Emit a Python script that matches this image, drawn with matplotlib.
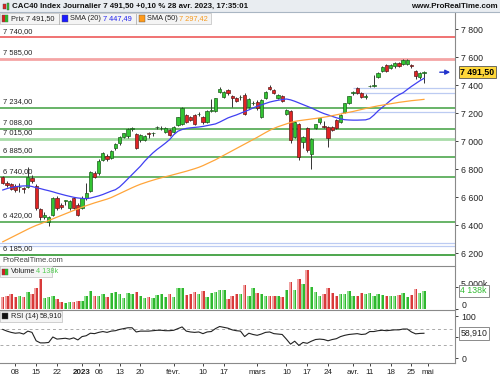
import matplotlib
matplotlib.use("Agg")
import matplotlib.pyplot as plt
import matplotlib.transforms as mtransforms
import numpy as np
import pandas as pd
from matplotlib.patches import Rectangle

# ---------------- data ----------------
holidays = ["2022-12-26", "2023-04-07", "2023-04-10", "2023-05-01"]
all_days = pd.bdate_range("2022-12-05", "2023-05-05")
trade_days = [d for d in all_days if d.strftime("%Y-%m-%d") not in holidays]

opens = [6740, 6700, 6690, 6678, 6668, 6665, 6670, 6735, 6680, 6515, 6460, 6425, 6470, 6592, 6542, 6572, 6525, 6590, 6545,
         6522, 6590, 6640, 6770, 6775, 6866, 6890, 6880, 6950, 6986, 7029, 7036, 7083, 7050, 7007, 7010, 7058, 7056, 7098,
         7092, 7064, 7078, 7064, 7114, 7120, 7186, 7170, 7186, 7190, 7170, 7136, 7214, 7214, 7352, 7314, 7364, 7321, 7307,
         7312, 7330, 7243, 7270, 7279, 7171, 7307, 7386, 7364, 7307, 7321, 7193, 7214, 7029, 7121, 6993, 7093, 6907, 7093,
         7136, 7110, 7100, 7100, 7150, 7136, 7207, 7271, 7343, 7379, 7343, 7315, 7390, 7395, 7457, 7500, 7543, 7521, 7536,
         7557, 7550, 7552, 7545, 7500, 7457, 7484]
highs = [6748, 6712, 6698, 6690, 6700, 6672, 6814, 6760, 6690, 6525, 6490, 6462, 6600, 6605, 6560, 6582, 6582, 6598, 6555,
         6610, 6700, 6785, 6785, 6870, 6925, 6905, 6935, 6985, 7035, 7060, 7090, 7103, 7058, 7050, 7045, 7065, 7066, 7110,
         7108, 7098, 7085, 7105, 7175, 7240, 7195, 7178, 7190, 7205, 7178, 7220, 7300, 7310, 7385, 7355, 7370, 7326, 7315,
         7330, 7340, 7305, 7285, 7290, 7300, 7355, 7400, 7375, 7335, 7330, 7228, 7220, 7145, 7130, 7035, 7100, 7020, 7125,
         7165, 7140, 7105, 7110, 7160, 7190, 7275, 7325, 7355, 7385, 7350, 7335, 7400, 7471, 7490, 7535, 7550, 7548, 7562,
         7565, 7585, 7585, 7550, 7510, 7495, 7500]
lows = [6690, 6670, 6650, 6635, 6636, 6632, 6665, 6700, 6510, 6436, 6440, 6393, 6465, 6510, 6515, 6540, 6510, 6515, 6465,
        6515, 6580, 6636, 6735, 6760, 6860, 6855, 6875, 6935, 6975, 7020, 7025, 7075, 6940, 6990, 7000, 7020, 7035, 7085,
        7080, 7055, 7035, 7060, 7110, 7112, 7130, 7140, 7115, 7180, 7125, 7130, 7205, 7210, 7340, 7305, 7330, 7243, 7280,
        7295, 7185, 7238, 7255, 7225, 7165, 7300, 7365, 7335, 7300, 7280, 7185, 6986, 7020, 6864, 6950, 6925, 6800, 7085,
        7120, 7090, 6957, 7070, 7085, 7130, 7200, 7265, 7330, 7335, 7305, 7300, 7385, 7385, 7450, 7495, 7495, 7515, 7525,
        7530, 7545, 7545, 7520, 7440, 7440, 7414]
closes = [6700, 6685, 6660, 6648, 6674, 6655, 6740, 6715, 6522, 6455, 6470, 6455, 6590, 6522, 6530, 6575, 6575, 6522, 6474,
          6595, 6630, 6776, 6745, 6860, 6912, 6875, 6929, 6978, 7028, 7055, 7084, 7092, 6950, 7040, 7036, 7050, 7058, 7100,
          7094, 7093, 7045, 7100, 7170, 7234, 7137, 7150, 7121, 7194, 7136, 7214, 7225, 7305, 7370, 7350, 7343, 7307, 7286,
          7316, 7193, 7300, 7272, 7236, 7293, 7350, 7372, 7343, 7329, 7286, 7221, 7007, 7136, 6886, 7029, 6936, 7014, 7121,
          7164, 7100, 7021, 7079, 7093, 7186, 7271, 7321, 7350, 7343, 7314, 7325, 7396, 7400, 7486, 7529, 7500, 7543, 7557,
          7536, 7579, 7577, 7534, 7464, 7486, 7491.5]
sma20 = [6650, 6660, 6668, 6673, 6677, 6679, 6680, 6675, 6667, 6660, 6652, 6645, 6637, 6628, 6620, 6612, 6605, 6598, 6593,
         6590, 6588, 6592, 6600, 6608, 6618, 6630, 6642, 6652, 6672, 6700, 6730, 6760, 6790, 6820, 6855, 6886, 6915, 6940,
         6962, 6985, 7010, 7045, 7070, 7082, 7090, 7094, 7097, 7100, 7104, 7110, 7116, 7122, 7135, 7150, 7165, 7176, 7186,
         7198, 7210, 7222, 7236, 7248, 7258, 7268, 7278, 7285, 7291, 7296, 7300, 7294, 7284, 7272, 7260, 7248, 7236, 7222,
         7208, 7196, 7186, 7176, 7166, 7158, 7152, 7150, 7149, 7149, 7150, 7151, 7160, 7185, 7215, 7240, 7265, 7290, 7312,
         7330, 7345, 7368, 7390, 7410, 7430, 7447.49]
sma50 = [6280, 6295, 6310, 6325, 6340, 6355, 6370, 6384, 6397, 6408, 6420, 6432, 6444, 6456, 6468, 6480, 6492, 6504, 6515,
         6527, 6538, 6548, 6558, 6567, 6576, 6585, 6596, 6610, 6624, 6638, 6652, 6666, 6679, 6691, 6701, 6711, 6720, 6729,
         6737, 6745, 6752, 6760, 6768, 6776, 6784, 6793, 6802, 6812, 6824, 6838, 6852, 6866, 6882, 6898, 6914, 6930, 6946,
         6962, 6978, 6994, 7010, 7026, 7043, 7060, 7076, 7090, 7102, 7112, 7122, 7132, 7140, 7145, 7149, 7153, 7157, 7161,
         7165, 7170, 7175, 7181, 7187, 7193, 7199, 7205, 7211, 7218, 7225, 7232, 7239, 7245, 7251, 7256, 7261, 7266, 7271,
         7276, 7280, 7284, 7288, 7291, 7294, 7297.42]
volume_m = [2.69, 3.07, 3.37, 2.69, 2.99, 2.76, 3.91, 3.45, 4.75, 6.90, 2.45, 2.84, 2.99, 2.22, 1.69, 1.30, 1.53, 1.69, 1.84,
            1.84, 2.99, 4.14, 3.07, 2.99, 3.45, 2.84, 3.60, 3.83, 3.45, 2.45, 3.60, 3.45, 3.99, 2.99, 2.45, 2.84, 2.45, 3.22,
            3.45, 2.84, 3.45, 2.84, 4.75, 4.75, 3.22, 3.37, 3.83, 3.45, 4.14, 2.69, 3.60, 3.83, 4.37, 4.37, 2.22, 3.07, 3.45,
            3.45, 5.52, 3.07, 4.75, 3.60, 3.37, 3.07, 2.99, 2.99, 2.99, 2.69, 4.37, 6.13, 4.37, 6.90, 5.67, 8.97, 4.98, 3.83,
            3.07, 3.45, 4.75, 3.60, 3.07, 3.45, 3.45, 4.14, 3.07, 3.07, 3.60, 3.45, 3.60, 3.07, 3.37, 3.22, 3.07, 3.07, 2.99,
            3.22, 3.60, 2.69, 3.22, 4.60, 3.60, 4.138]
rsi14 = [68, 64, 61, 59, 60, 57, 64, 61, 41, 36, 36, 37, 50, 45, 46, 47, 45, 48, 43, 51, 53, 59, 58, 61, 63, 61, 64, 65, 68,
         70, 72, 72, 62, 64, 64, 64, 65, 66, 66, 65, 65, 66, 70, 74, 64, 62, 61, 62, 58, 62, 63, 70, 75, 73, 71, 67, 65, 64,
         51, 59, 56, 54, 57, 61, 62, 58, 57, 56, 45, 33, 40, 30, 37, 35, 40, 44, 45, 44, 41, 44, 46, 51, 54, 56, 57, 58, 56,
         57, 63, 63, 65, 66, 65, 66, 67, 67, 69, 69, 62, 57.5, 58.5, 58.91]

level_values = [7740, 7585, 7234, 7088, 7015, 6885, 6740, 6420, 6185]
level_colors = ["#ee5a5a", "#f4a5a5", "#3f9f3f", "#3f9f3f", "#a8dca8", "#3f9f3f", "#3f9f3f", "#3f9f3f", "#3f9f3f"]
level_widths = [1.2, 2.0, 1.1, 1.1, 2.0, 1.1, 1.1, 1.1, 1.3]
thin_levels = [6274, 6250]
short_levels = [7379, 7343, 7205]
short_starts = ["2023-04-03", "2023-04-03", "2023-03-29"]

price_ticks = [6200, 6400, 6600, 6800, 7000, 7200, 7400, 7600, 7800]
tick_dates = ["2022-12-08", "2022-12-15", "2022-12-22", "2023-01-02", "2023-01-06", "2023-01-13", "2023-01-20",
              "2023-02-01", "2023-02-10", "2023-02-17", "2023-03-01", "2023-03-10", "2023-03-17",
              "2023-03-24", "2023-04-03", "2023-04-11", "2023-04-18", "2023-04-25", "2023-05-02"]
tick_labels = ["08", "15", "22", "2023", "06", "13", "20", "févr.", "10", "17", "mars", "10", "17", "24",
               "avr.", "11", "18", "25", "mai"]

# ---------------- layout ----------------
W, H = 500, 375
FONT = "Liberation Sans"
plt.rcParams["font.family"] = [FONT, "DejaVu Sans"]
fig = plt.figure(figsize=(W / 100, H / 100), dpi=100)
fig.patch.set_facecolor("white")


def fb(top, bottom):
    return 1 - bottom / H, (bottom - top) / H


date_index = {d.strftime("%Y-%m-%d"): i for i, d in enumerate(trade_days)}
n = len(closes)
x = np.arange(n)
PX0, PXS = 2.79, 4.17                      # pixel of first bar, pixels per bar
xl = (0 - PX0) / PXS, (455 - PX0) / PXS
AXC = "#222222"
SPC = "#8a8a8a"

# main
b, h = fb(12, 265)
ax = fig.add_axes([0, b, 455 / W, h])
ymin = 7800 - (265 - 29) / 0.14
ymax = 7800 + (29 - 12) / 0.14
ax.set_ylim(ymin, ymax)
ax.set_xlim(*xl)

for v, c, w in zip(level_values, level_colors, level_widths):
    ax.axhline(v, color=c, lw=w, zorder=1)
    ax.text(0.006, v + 20, f"{v:,.2f}".replace(",", " ").replace(".", ","), transform=ax.get_yaxis_transform(),
            fontsize=5.4, color=AXC, va="bottom", ha="left", zorder=6)
for v in thin_levels:
    ax.axhline(v, color="#bccbf2", lw=0.9, zorder=1)
for v, s in zip(short_levels, short_starts):
    ax.hlines(v, date_index[s], xl[1], color="#bccbf2", lw=0.9, zorder=1)

o = np.array(opens); c = np.array(closes); hi = np.array(highs); lo = np.array(lows)
up = c >= o
ax.vlines(x, lo, hi, color="#333333", lw=0.7, zorder=3)
body_bot = np.minimum(o, c)
body_h = np.maximum(np.abs(c - o), 4)
ax.bar(x[up], body_h[up], bottom=body_bot[up], width=0.78, color="#33c433", edgecolor="#1d5e1d", lw=0.5, zorder=4)
ax.bar(x[~up], body_h[~up], bottom=body_bot[~up], width=0.78, color="#e02424", edgecolor="#5e1d1d", lw=0.5, zorder=4)
ax.plot(x, sma20, color="#4040f2", lw=0.9, zorder=5)
ax.plot(x, sma50, color="#ffa53a", lw=0.9, zorder=5)

ax.yaxis.tick_right()
ax.set_yticks(price_ticks)
ax.set_yticklabels([f"{t:,}".replace(",", " ") for t in price_ticks])
ax.tick_params(axis="y", labelsize=6.3, length=2.5, width=0.6, pad=2, colors=AXC)
ax.set_xticks([])
for s in ["top", "left", "bottom"]:
    ax.spines[s].set_visible(False)
ax.spines["right"].set_color(SPC)
ax.spines["right"].set_linewidth(0.8)

ax.text(0.006, (265 - 261) / (265 - 12), "ProRealTime.com", transform=ax.transAxes, fontsize=5.5,
        color="#444444", va="center", ha="left")

# current price marker
yp = closes[-1]
ax.annotate("", xy=(453 / 455, yp), xytext=(437 / 455, yp), xycoords=ax.get_yaxis_transform(),
            textcoords=ax.get_yaxis_transform(),
            arrowprops=dict(arrowstyle="-|>", color="#2233cc", lw=1.0, mutation_scale=7), zorder=7)
ax.text(1.012, yp, f"{yp:,.2f}".replace(",", " ").replace(".", ","), transform=ax.get_yaxis_transform(),
        fontsize=6.3, fontweight="bold", va="center", ha="left", clip_on=False, zorder=8,
        bbox=dict(boxstyle="square,pad=0.2", fc="#ffd83a", ec="#555555", lw=0.6))

# volume
b, h = fb(266, 310)
axv = fig.add_axes([0, b, 455 / W, h])
axv.set_xlim(*xl)
axv.set_ylim(-1 / 4.35, (309 - 266) / 4.35)
vcol_d = np.where(up, "#2fb82f", "#d83a3a")
vcol_l = np.where(up, "#8ee08e", "#f0a2a2")
vm = np.array(volume_m)
axv.bar(x, vm, width=0.82, color=vcol_d, zorder=2)
axv.bar(x - 0.2, vm, width=0.42, color=vcol_l, zorder=3)
axv.yaxis.tick_right()
axv.set_yticks([0, 5])
axv.set_yticklabels(["0", "5 000k"])
axv.tick_params(axis="y", labelsize=6.3, length=2.5, width=0.6, pad=2, colors=AXC)
up_shift = mtransforms.ScaledTranslation(0, 3 / 72, fig.dpi_scale_trans)
for lab in axv.get_yticklabels():
    lab.set_transform(lab.get_transform() + up_shift)
axv.set_xticks([])
for s in ["left", "bottom"]:
    axv.spines[s].set_visible(False)
for s in ["right", "top"]:
    axv.spines[s].set_color(SPC)
    axv.spines[s].set_linewidth(0.8)
axv.text(1.012, volume_m[-1], "4 138k", transform=axv.get_yaxis_transform(), fontsize=6.3, color="#33bb33",
         va="center", ha="left", clip_on=False, zorder=8,
         bbox=dict(boxstyle="square,pad=0.2", fc="white", ec="#777777", lw=0.6))

# rsi
b, h = fb(310, 363)
axr = fig.add_axes([0, b, 455 / W, h])
axr.set_xlim(*xl)
axr.set_ylim(-(363 - 358) / 0.42, 100 + (316 - 310) / 0.42)
axr.axhline(70, color="#aaaaaa", lw=0.7, ls=(0, (3, 3)))
axr.axhline(30, color="#aaaaaa", lw=0.7, ls=(0, (3, 3)))
axr.plot(x, rsi14, color="#222222", lw=0.8, zorder=3)
axr.yaxis.tick_right()
axr.set_yticks([0, 50, 100])
axr.set_yticklabels(["0", "50", "100"])
axr.tick_params(axis="y", labelsize=6.3, length=2.5, width=0.6, pad=2, colors=AXC)
tick_pos = [date_index[d] for d in tick_dates]
axr.set_xticks(tick_pos)
axr.set_xticklabels(tick_labels)
axr.tick_params(axis="x", labelsize=5.8, length=2.5, width=0.6, pad=1.5, colors=AXC)
for lab in axr.get_xticklabels():
    if lab.get_text() == "2023":
        lab.set_fontweight("bold")
axr.spines["left"].set_visible(False)
for s in ["right", "top", "bottom"]:
    axr.spines[s].set_color(SPC)
    axr.spines[s].set_linewidth(0.8)
axr.text(1.012, rsi14[-1], "58,910", transform=axr.get_yaxis_transform(), fontsize=6.3, color="#222222",
         va="center", ha="left", clip_on=False, zorder=8,
         bbox=dict(boxstyle="square,pad=0.2", fc="white", ec="#777777", lw=0.6))

# ---------------- header ----------------
fig.add_artist(Rectangle((0, 1 - 12 / H), 1, 12 / H, transform=fig.transFigure, fc="#e9edf1", ec="none"))
fig.add_artist(plt.Line2D([0, 1], [1 - 12 / H, 1 - 12 / H], transform=fig.transFigure, color="#a9b6c3", lw=0.8))
fig.add_artist(Rectangle((3 / W, 1 - 9 / H), 2.5 / W, 5 / H, transform=fig.transFigure, fc="#e02424", ec="#444", lw=0.3))
fig.add_artist(Rectangle((6.5 / W, 1 - 10 / H), 2.5 / W, 7 / H, transform=fig.transFigure, fc="#33c433", ec="#444", lw=0.3))
fig.text(12 / W, 1 - 6 / H, "CAC40 Index Journalier 7 491,50 +0,10 % 28 avr. 2023, 17:35:01", fontsize=5.7,
         fontweight="bold", va="center", ha="left", color="#111111")
fig.text(498 / W, 1 - 6 / H, "www.ProRealTime.com", fontsize=5.7, fontweight="bold", va="center", ha="right",
         color="#111111")


def legend_box(x0, x1, yc, hgt=11):
    fig.add_artist(Rectangle((x0 / W, 1 - (yc + hgt / 2) / H), (x1 - x0) / W, hgt / H, transform=fig.transFigure,
                             fc="#f4f4f4", ec="#c8c8c8", lw=0.6, zorder=9))


def sq(x0, yc, color, color2=None):
    fig.add_artist(Rectangle((x0 / W, 1 - (yc + 3) / H), 6 / W, 6 / H, transform=fig.transFigure,
                             fc=color, ec="#555555", lw=0.3, zorder=10))
    if color2:
        fig.add_artist(Rectangle(((x0 + 3) / W, 1 - (yc + 3) / H), 3 / W, 6 / H, transform=fig.transFigure,
                                 fc=color2, ec="none", zorder=10))


def t(xp, yp, s, color="#222222", **kw):
    fig.text(xp / W, 1 - yp / H, s, fontsize=5.3, va="center", ha="left", color=color, zorder=11, **kw)


def vsep(xp, yc):
    fig.add_artist(plt.Line2D([xp / W] * 2, [1 - (yc - 5) / H, 1 - (yc + 5) / H], transform=fig.transFigure,
                              color="#b0b0b0", lw=0.6, zorder=11))


legend_box(0, 211, 18.5)
sq(2, 18.5, "#d02020", "#30b030")
t(11, 18.5, "Prix 7 491,50")
vsep(59, 18.5)
sq(62, 18.5, "#1a1aff")
t(70, 18.5, "SMA (20)")
t(103, 18.5, "7 447,49", color="#2222ee")
vsep(136, 18.5)
sq(139, 18.5, "#ff9a1a")
t(147, 18.5, "SMA (50)")
t(179, 18.5, "7 297,42", color="#f59a20")

legend_box(0, 52, 271.5)
sq(2, 271.5, "#d02020", "#30b030")
t(11, 271.5, "Volume")
t(36, 271.5, "4 138k", color="#55cc55")

legend_box(0, 62, 316)
sq(2, 316, "#111111")
t(11, 316, "RSI (14)")
t(40, 316, "58,910")

fig.savefig("out.png", dpi=100, facecolor="white")
